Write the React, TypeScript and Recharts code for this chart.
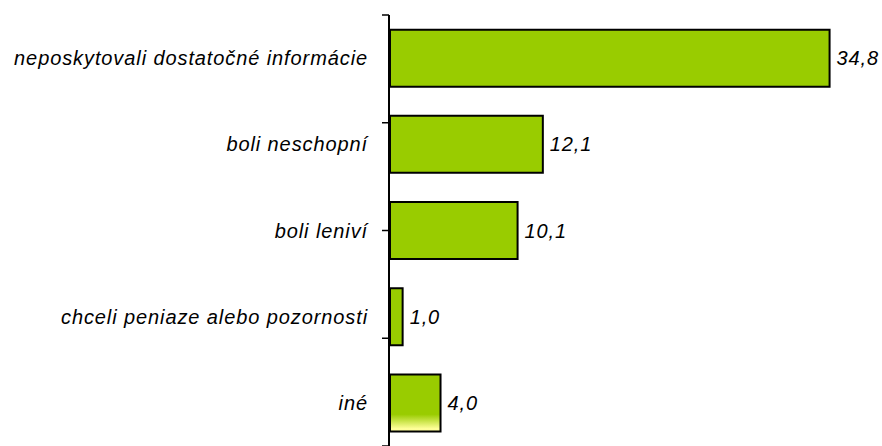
import {Bar, BarChart, Cell, LabelList, XAxis, YAxis} from "recharts";

const categories = [
    'neposkytovali dostatočné informácie',
    'boli neschopní',
    'boli leniví',
    'chceli peniaze alebo pozornosti',
    'iné',
];
const values = [34.8, 12.1, 10.1, 1.0, 4.0];
const boundaryTicks = [0, 1, 2, 3, 4, 5];

const data = categories.map((name, i) => ({name, value: values[i]}));

const font = {
    fontFamily: '"Liberation Sans", Arial, sans-serif',
    fontStyle: 'italic',
    fontSize: 20,
    letterSpacing: 0.9,
    fill: '#000',
};

const CatTick = ({x, y, payload}: any) => (
    <text x={x} y={y} dy="0.355em" textAnchor="end" style={font}>{payload.value}</text>
);

const NoTick = () => <g/>;

export default function App() {
    return (
        <div style={{position: 'absolute', left: 0, top: 0}}>
            <BarChart
                width={882}
                height={446}
                data={data}
                layout="vertical"
                barCategoryGap="17%"
                margin={{top: 15, right: 12, left: 0, bottom: 0}}
            >
                <defs>
                    <linearGradient id="lastBar" x1="0" y1="0" x2="0" y2="1">
                        <stop offset="0.7" stopColor="#99cc00"/>
                        <stop offset="0.95" stopColor="#ffff99"/>
                    </linearGradient>
                </defs>
                <YAxis
                    yAxisId="cat"
                    type="category"
                    dataKey="name"
                    width={1}
                    axisLine={false}
                    tickLine={false}
                    tickSize={0}
                    tickMargin={22}
                    tick={CatTick}
                    interval={0}
                />
                {/* boundary ticks + axis line */}
                <YAxis
                    yAxisId="grid"
                    type="number"
                    domain={[0, 5]}
                    allowDataOverflow
                    ticks={boundaryTicks}
                    interval={0}
                    tick={NoTick}
                    width={389}
                    tickSize={7}
                    axisLine={{stroke: '#000', strokeWidth: 2}}
                    tickLine={{stroke: '#000', strokeWidth: 1.5}}
                />
                <XAxis type="number" domain={[0, 38]} hide allowDataOverflow/>
                <Bar
                    yAxisId="cat"
                    dataKey="value"
                    fill="#99cc00"
                    stroke="#000"
                    strokeWidth={2}
                    isAnimationActive={false}
                >
                    {data.map((d, i) => (
                        <Cell key={d.name} fill={i === data.length - 1 ? 'url(#lastBar)' : '#99cc00'}/>
                    ))}
                    <LabelList
                        dataKey="value"
                        position="right"
                        offset={7}
                        formatter={(v: any) => Number(v).toFixed(1).replace('.', ',')}
                        style={font}
                    />
                </Bar>
            </BarChart>
        </div>
    );
}
